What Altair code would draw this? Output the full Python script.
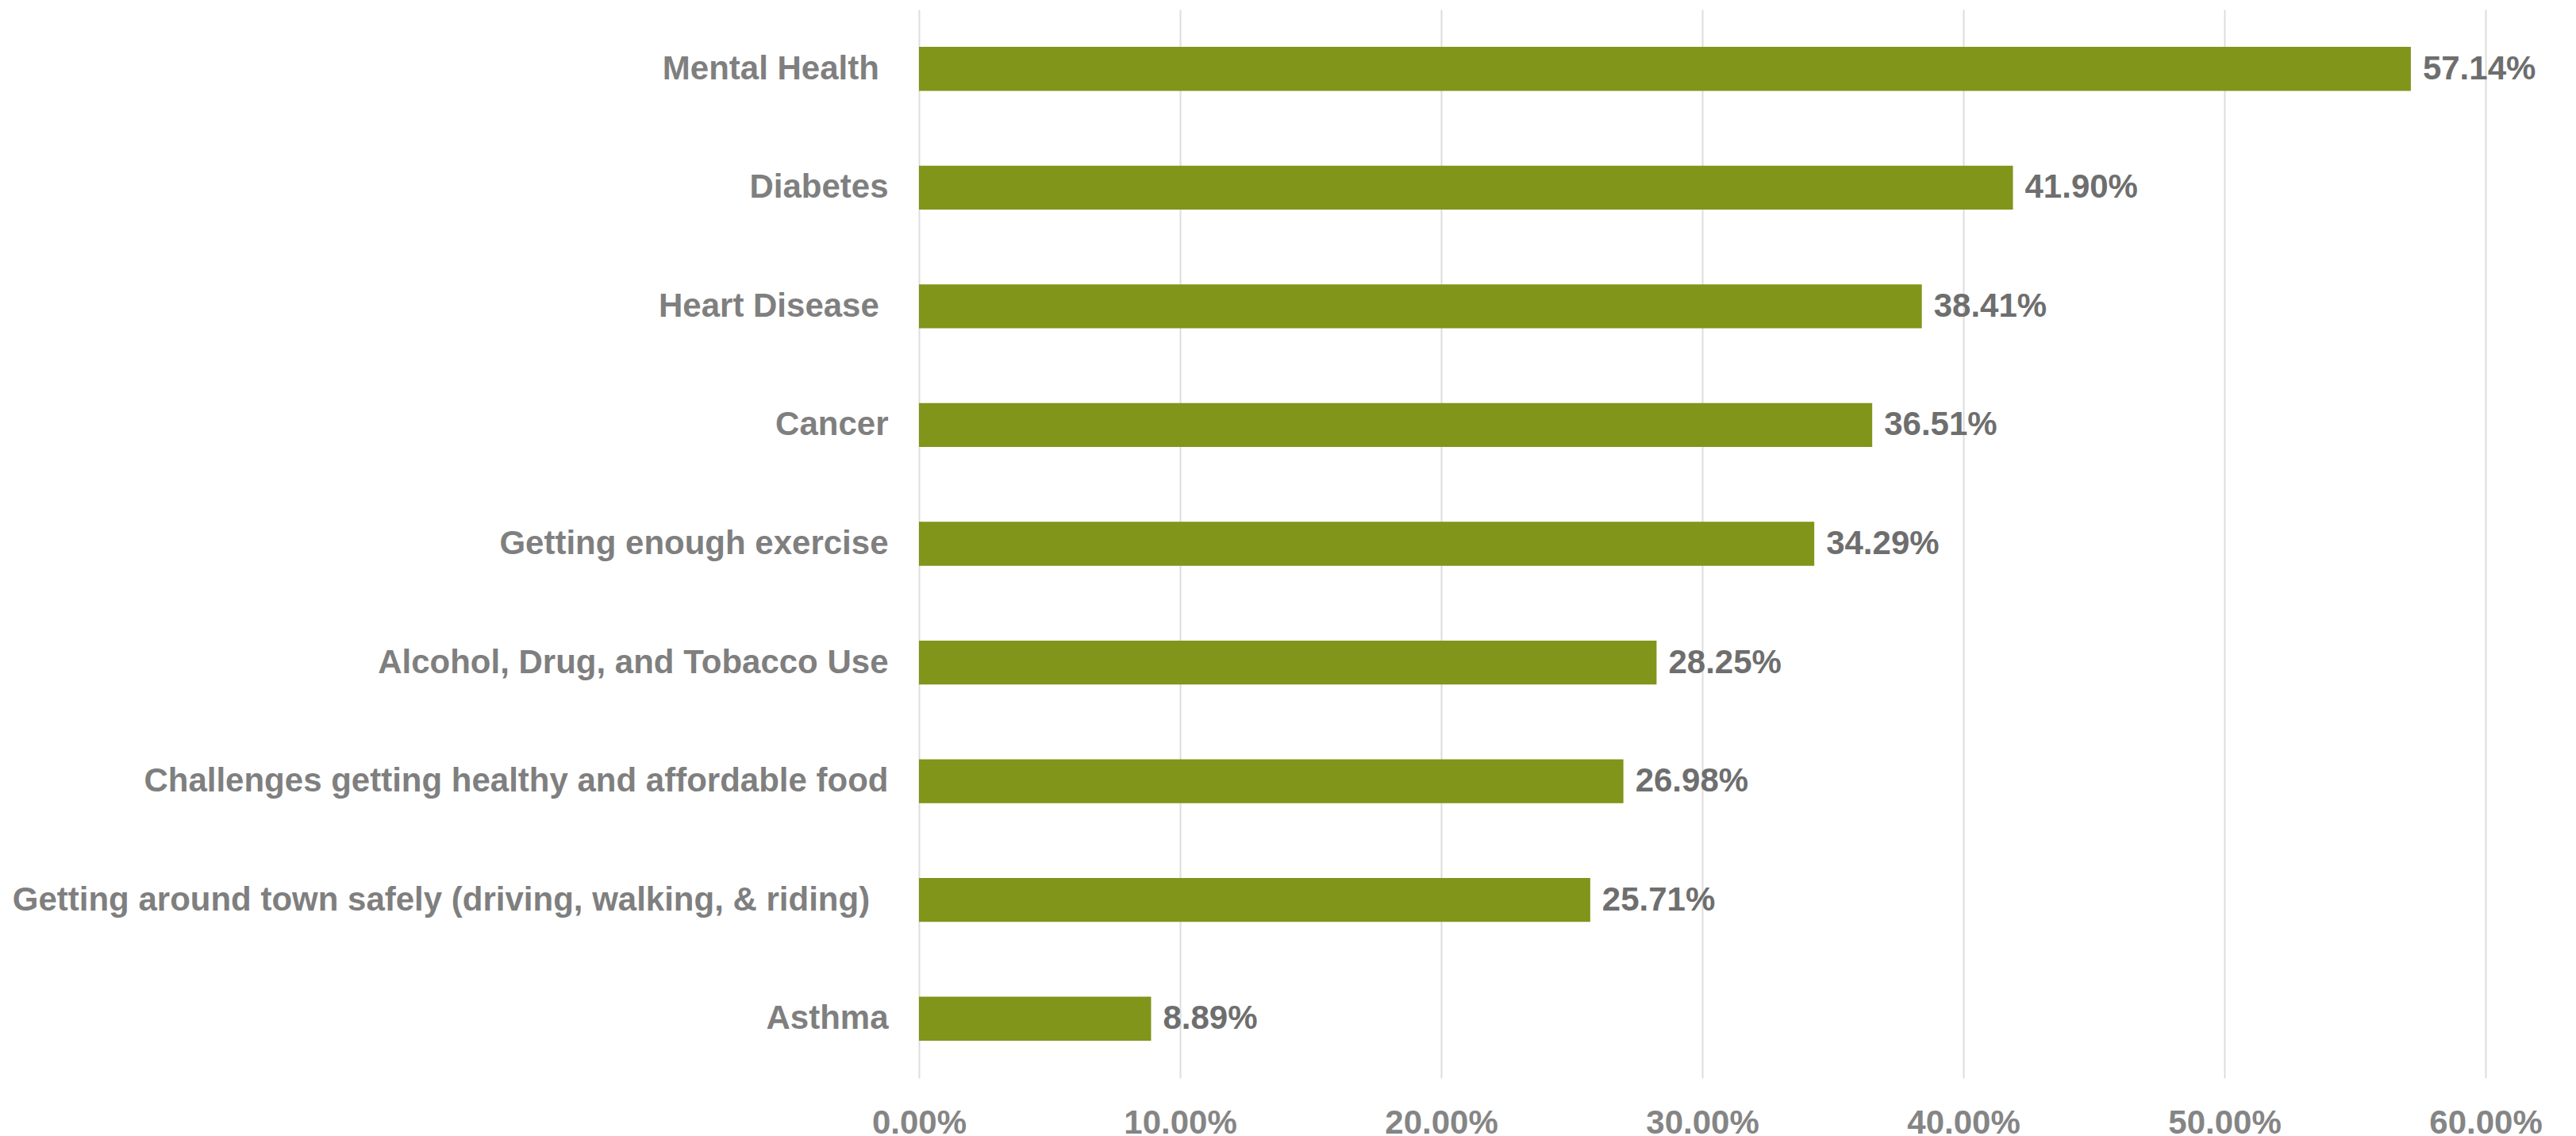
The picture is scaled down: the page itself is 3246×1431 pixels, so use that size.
import altair as alt
import pandas as pd

SP = "\u00a0"    # trailing space in the source labels
END = "\u200b"   # zero-width mark so the trailing space is not trimmed
categories = [
    "Mental Health" + SP + END,
    "Diabetes",
    "Heart Disease" + SP + END,
    "Cancer",
    "Getting enough exercise",
    "Alcohol, Drug, and Tobacco Use",
    "Challenges getting healthy and affordable food",
    "Getting around town safely (driving, walking, & riding)" + SP + SP + END,
    "Asthma",
]
values = [0.5714, 0.4190, 0.3841, 0.3651, 0.3429, 0.2825, 0.2698, 0.2571, 0.0889]
x_ticks = [0.0, 0.1, 0.2, 0.3, 0.4, 0.5, 0.6]

df = pd.DataFrame({"category": categories, "value": values})

FONT = "Liberation Sans"

y_enc = alt.Y(
    "category:N",
    sort=categories,
    title=None,
    scale=alt.Scale(paddingInner=0.63, paddingOuter=0.315),
    axis=alt.Axis(
        ticks=False,
        domain=False,
        grid=False,
        labelPadding=39,
        labelFont=FONT,
        labelFontSize=42,
        labelFontWeight="bold",
        labelColor="#7F7F7F",
        labelLimit=2000,
    ),
)

x_enc = alt.X(
    "value:Q",
    title=None,
    scale=alt.Scale(domain=[0, 0.6], nice=False, zero=True),
    axis=alt.Axis(
        values=x_ticks,
        format=".2%",
        ticks=False,
        domain=False,
        grid=True,
        gridColor="#DDDDDD",
        gridWidth=2,
        labelPadding=36,
        labelFont=FONT,
        labelFontSize=42,
        labelFontWeight="bold",
        labelColor="#858585",
        labelFlush=False,
    ),
)

bars = alt.Chart(df).mark_bar(color="#80951A").encode(x=x_enc, y=y_enc)

labels = alt.Chart(df).mark_text(
    align="left",
    baseline="middle",
    dx=15,
    font=FONT,
    fontSize=42,
    fontWeight="bold",
    color="#6E6E6E",
).encode(
    x=alt.X("value:Q"),
    y=alt.Y("category:N", sort=categories),
    text=alt.Text("value:Q", format=".2%"),
)

chart = (
    alt.layer(bars, labels)
    .properties(
        width=1974,
        height=1346,
        autosize=alt.AutoSizeParams(type="none"),
        padding={"left": 1150, "top": 4, "right": 100, "bottom": 80},
        background="white",
    )
    .configure_view(stroke=None)
)

chart.save("out.html", embed_options={"renderer": "svg", "actions": False})
